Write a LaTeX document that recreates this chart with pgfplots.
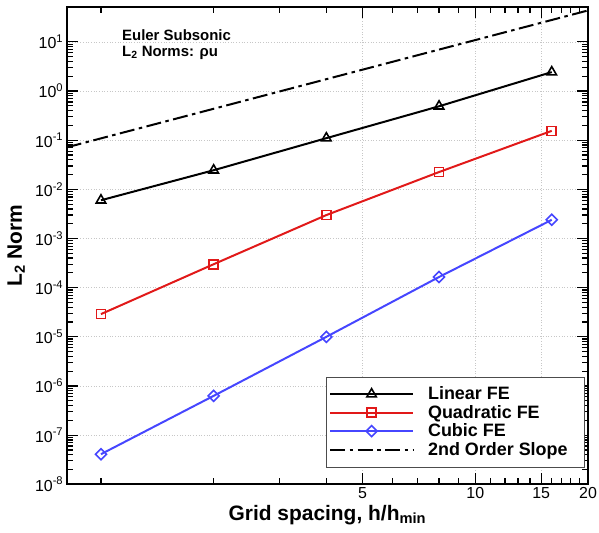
\documentclass[border=0pt]{standalone}
\usepackage{fontspec}
\setmainfont{Liberation Sans}
\usepackage{pgfplots}
\pgfplotsset{compat=1.18}
\definecolor{FERed}{RGB}{225,25,25}
\definecolor{FEBlue}{RGB}{70,70,255}
\begin{document}
\begin{tikzpicture}
  \useasboundingbox (0,0) rectangle (599bp,533bp);
  \begin{axis}[
    at={(66.7bp,48.7bp)},
    anchor=south west,
    scale only axis,
    width=521.3bp,
    height=477.6bp,
    xmode=log, ymode=log,
    xmin=0.81, xmax=20,
    ymin=1e-8, ymax=52,
    axis line style={line width=1.8pt},
    tick align=inside,
    major tick length=11bp,
    minor tick length=6bp,
    every tick/.style={black, line width=1.2pt},
    xtick={5,10,15,20},
    xticklabels={5,10,15,20},
    minor xtick={1,2,3,4,6,7,8,9,11,12,13,14,16,17,18,19},
    ytick={1e-8,1e-7,1e-6,1e-5,1e-4,1e-3,1e-2,1e-1,1,10},
    yticklabels={10\textsuperscript{-8},10\textsuperscript{-7},10\textsuperscript{-6},10\textsuperscript{-5},10\textsuperscript{-4},10\textsuperscript{-3},10\textsuperscript{-2},10\textsuperscript{-1},10\textsuperscript{0},10\textsuperscript{1}},
    tick label style={font=\fontsize{16}{18}\selectfont},
    xmajorgrids, ymajorgrids,
    major grid style={draw=black!22, line width=0.7pt, dotted},
    xlabel={\textbf{Grid spacing, h/h\textsubscript{min}}},
    ylabel={\textbf{L\textsubscript{2} Norm}},
    label style={font=\fontsize{21}{24}\selectfont},
    xlabel style={at={(rel axis cs:0.5,-0.064)}, anchor=center},
    ylabel style={at={(rel axis cs:-0.097,0.5)}, anchor=center, rotate=0},
    legend style={
      at={(0.994,0.036)}, anchor=south east,
      draw=black!70, line width=0.6pt, fill=white,
      font=\bfseries\fontsize{18}{20}\selectfont,
      cells={anchor=west, text height=13bp, text depth=4.5bp, inner sep=1.5bp},
      row sep=0bp,
      /tikz/every odd column/.append style={column sep=12bp},
      inner xsep=3bp, inner ysep=8bp
    },
    legend image code/.code={
      \draw[mark repeat=2,mark phase=2] plot coordinates {(0bp,0bp) (41.5bp,0bp) (83bp,0bp)};
    },
    clip=true
  ]
    \addplot[black, line width=2pt, mark=triangle, mark size=5.5bp,
      mark options={solid, line width=1.6pt}]
      coordinates {(1,6.0e-3) (2,2.45e-2) (4,0.11) (8,0.49) (16,2.43)};
    \addlegendentry{Linear FE}
    \addplot[FERed, line width=2pt, mark=square, mark size=4.5bp,
      mark options={solid, line width=1.6pt}]
      coordinates {(1,2.9e-5) (2,3.0e-4) (4,3.0e-3) (8,2.25e-2) (16,0.155)};
    \addlegendentry{Quadratic FE}
    \addplot[FEBlue, line width=2pt, mark=square, mark size=3.9bp,
      mark options={solid, line width=1.6pt, rotate=45}]
      coordinates {(1,4.1e-8) (2,6.3e-7) (4,1.0e-5) (8,1.65e-4) (16,2.4e-3)};
    \addlegendentry{Cubic FE}
    \addplot[black, line width=2pt,
      dash pattern=on 15bp off 4.5bp on 3.5bp off 4.5bp]
      coordinates {(0.81,0.0715) (20,43.6)};
    \addlegendentry{2nd Order Slope\hspace*{12bp}}
    \node[anchor=north west, align=left, font=\bfseries\fontsize{15}{16}\selectfont,
      inner sep=0pt] at (rel axis cs:0.106,0.952)
      {Euler Subsonic\\L\textsubscript{2} Norms: ρu};
  \end{axis}
\end{tikzpicture}
\end{document}
